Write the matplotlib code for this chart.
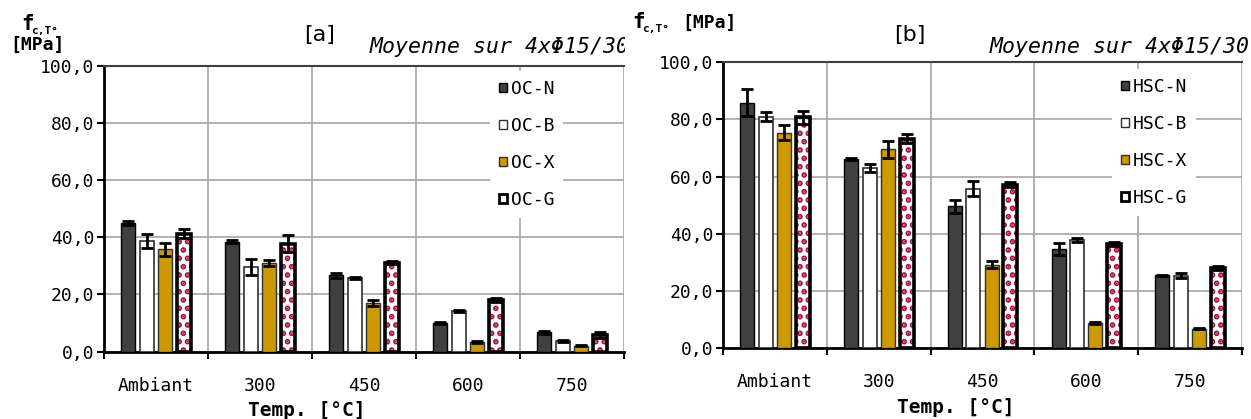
import numpy as np
import matplotlib
matplotlib.use("Agg")
import matplotlib.pyplot as plt
from matplotlib.patches import Patch

# ─────────────────────────────────────────────
# Data
# ─────────────────────────────────────────────
categories = ["Ambiant", "300", "450", "600", "750"]

# panel [a] : ordinary concrete
oc_labels = ["OC-N", "OC-B", "OC-X", "OC-G"]
oc_n = [45.0, 38.5, 26.7, 10.1, 6.8]
oc_b = [38.7, 29.6, 25.7, 14.3, 3.6]
oc_x = [35.8, 30.9, 17.1, 3.4, 2.1]
oc_g = [41.3, 37.8, 31.1, 18.0, 5.9]
oc_n_err = [0.8, 0.5, 0.8, 0.3, 0.5]
oc_b_err = [2.4, 2.8, 0.3, 0.3, 0.4]
oc_x_err = [2.2, 1.0, 1.0, 0.3, 0.3]
oc_g_err = [1.6, 2.9, 0.5, 0.7, 1.0]

# panel [b] : high strength concrete
hsc_labels = ["HSC-N", "HSC-B", "HSC-X", "HSC-G"]
hsc_n = [85.9, 66.2, 49.6, 34.7, 25.4]
hsc_b = [80.9, 63.0, 55.8, 37.8, 25.3]
hsc_x = [75.3, 69.5, 29.1, 8.7, 6.8]
hsc_g = [80.8, 73.3, 57.2, 36.4, 28.0]
hsc_n_err = [4.7, 0.4, 2.3, 2.2, 0.2]
hsc_b_err = [1.6, 1.4, 2.5, 0.8, 0.8]
hsc_x_err = [2.6, 3.0, 1.2, 0.3, 0.3]
hsc_g_err = [2.3, 1.6, 1.0, 0.7, 0.7]

yticks = [0, 20, 40, 60, 80, 100]

# ─────────────────────────────────────────────
# Style
# ─────────────────────────────────────────────
MONO = "DejaVu Sans Mono"
C_N = "#404040"
C_X = "#CC9900"
C_G = "#B01040"
GRID = "#A6A6A6"
plt.rcParams["hatch.linewidth"] = 2.8

W, H = 1251, 419
fig = plt.figure(figsize=(W / 100, H / 100), dpi=100)


def px_axes(x0, y0, x1, y1):
    """axes from pixel box (top-left origin)"""
    return fig.add_axes([x0 / W, (H - y1) / H, (x1 - x0) / W, (y1 - y0) / H])


def canvas(x0, x1):
    c = px_axes(x0, 0, x1, H)
    c.set_xlim(x0, x1)
    c.set_ylim(H, 0)
    c.axis("off")
    return c


def draw_panel(ax, series, errs, labels, leg_anchor):
    x = np.arange(len(categories))
    width = 0.135
    step = 0.178
    offs = [-1.5 * step, -0.5 * step, 0.5 * step, 1.5 * step]
    ekw = dict(ecolor="black", elinewidth=2, capsize=4, capthick=2, zorder=5)

    ax.bar(x + offs[0], series[0], width, color=C_N, edgecolor="black",
           linewidth=1, zorder=3)
    ax.errorbar(x + offs[0], series[0], yerr=errs[0], fmt="none", **ekw)
    ax.bar(x + offs[1], series[1], width, color="white", edgecolor="#303030",
           linewidth=1.2, zorder=3)
    ax.errorbar(x + offs[1], series[1], yerr=errs[1], fmt="none", **ekw)
    ax.bar(x + offs[2], series[2], width, color=C_X, edgecolor="#303030",
           linewidth=1, zorder=3)
    ax.errorbar(x + offs[2], series[2], yerr=errs[2], fmt="none", **ekw)
    # G : white with red dots, thick black outline
    ax.bar(x + offs[3], series[3], width, color="white", edgecolor=C_G,
           linewidth=0, hatch="..", zorder=3)
    ax.bar(x + offs[3], series[3], width, color="none", edgecolor="black",
           linewidth=2.6, zorder=4)
    ax.errorbar(x + offs[3], series[3], yerr=errs[3], fmt="none", **ekw)

    ax.set_xlim(-0.5, len(categories) - 0.5)
    ax.set_ylim(0, 100)
    ax.set_yticks(yticks)
    ax.set_yticklabels([f"{v:.1f}".replace(".", ",") for v in yticks],
                       family=MONO, fontsize=13)
    ax.set_xticks(np.arange(len(categories) + 1) - 0.5)
    ax.set_xticklabels([])
    ax.set_xticks(x, minor=True)
    ax.set_xticklabels(categories, minor=True, family=MONO, fontsize=13)
    ax.tick_params(axis="x", which="minor", length=0, pad=18)
    ax.tick_params(axis="both", which="major", direction="out", length=5,
                   width=1.5, color="black")
    ax.tick_params(axis="y", pad=2)

    ax.grid(True, which="major", color=GRID, linewidth=1.2)
    ax.set_axisbelow(True)
    ax.spines["right"].set_visible(False)
    ax.spines["left"].set_linewidth(2)
    ax.spines["bottom"].set_linewidth(2)
    ax.spines["top"].set_color("#404040")
    ax.spines["top"].set_linewidth(1.5)

    handles = [
        Patch(facecolor=C_N, edgecolor="black", linewidth=1),
        Patch(facecolor="white", edgecolor="#303030", linewidth=1),
        Patch(facecolor=C_X, edgecolor="#303030", linewidth=1),
        Patch(facecolor="white", edgecolor="black", linewidth=2),
    ]
    leg = ax.legend(handles, labels, loc="upper left", bbox_to_anchor=leg_anchor,
                    prop={"family": MONO, "size": 13}, frameon=True,
                    facecolor="white", edgecolor="none", framealpha=1,
                    fancybox=False, handlelength=0.45, handleheight=0.45,
                    handletextpad=0.2, labelspacing=1.05, borderpad=0.5,
                    borderaxespad=0)
    leg.set_zorder(6)


# ─────────────────────────────────────────────
# Panel [a]
# ─────────────────────────────────────────────
ca = canvas(0, 625)
axa = px_axes(104, 66, 624, 351.6)
draw_panel(axa, [oc_n, oc_b, oc_x, oc_g],
           [oc_n_err, oc_b_err, oc_x_err, oc_g_err], oc_labels,
           ((490 - 104) / 520, (351.6 - 71) / 285.6))

ca.text(21, 30, "f", family=MONO, weight="bold", fontsize=15, va="baseline", clip_on=True)
ca.text(31, 34, "c,T°", family=MONO, weight="bold", fontsize=8, va="baseline", clip_on=True)
ca.text(10, 50, "[MPa]", family=MONO, weight="bold", fontsize=13, va="baseline", clip_on=True)
ca.text(320, 35, "[a]", family="DejaVu Sans", fontsize=16, ha="center", va="center", clip_on=True)
ca.text(370, 53, "Moyenne sur 4xΦ15/30", family=MONO, style="italic", fontsize=15.5,
        va="baseline", clip_on=True)
ca.text(307, 410, "Temp. [°C]", family=MONO, weight="bold", fontsize=14,
        ha="center", va="center", clip_on=True)

# ─────────────────────────────────────────────
# Panel [b]
# ─────────────────────────────────────────────
cb = canvas(627, 1251)
axb = px_axes(723.3, 62.3, 1241.8, 348)
draw_panel(axb, [hsc_n, hsc_b, hsc_x, hsc_g],
           [hsc_n_err, hsc_b_err, hsc_x_err, hsc_g_err], hsc_labels,
           ((1112 - 723.3) / 518.5, (348 - 69) / 285.7))

cb.text(632, 28, "f", family=MONO, weight="bold", fontsize=15, va="baseline", clip_on=True)
cb.text(642, 32, "c,T°", family=MONO, weight="bold", fontsize=8, va="baseline", clip_on=True)
cb.text(682, 28, "[MPa]", family=MONO, weight="bold", fontsize=13, va="baseline", clip_on=True)
cb.text(910, 35, "[b]", family="DejaVu Sans", fontsize=16, ha="center", va="center", clip_on=True)
cb.text(990, 53, "Moyenne sur 4xΦ15/30", family=MONO, style="italic", fontsize=15.5,
        va="baseline", clip_on=True)
cb.text(956, 407, "Temp. [°C]", family=MONO, weight="bold", fontsize=14,
        ha="center", va="center", clip_on=True)

fig.savefig("out.png", dpi=100)
